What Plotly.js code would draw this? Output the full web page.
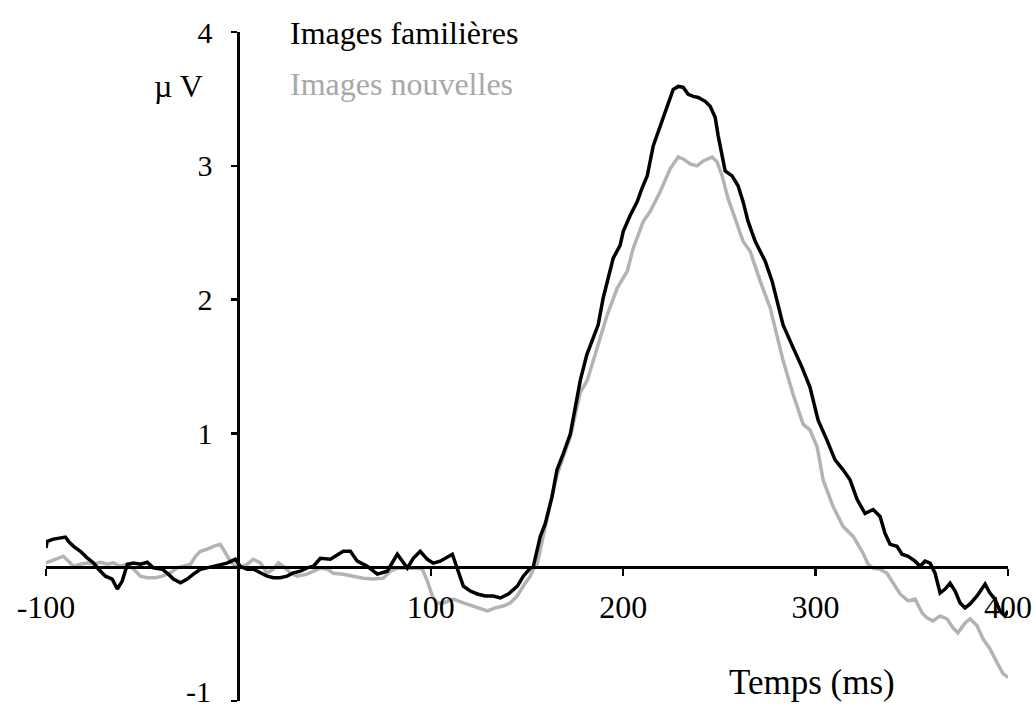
<!DOCTYPE html>
<html>
<head>
<meta charset="utf-8">
<script src="https://cdn.plot.ly/plotly-3.0.1.min.js"></script>
<style>html,body{margin:0;padding:0;background:#fff;}#chart{width:1034px;height:710px;}</style>
</head>
<body>
<div id="chart"></div>
<script>
// Images familières (black)
const famTime = [-100,-99.4,-96.1,-92.5,-89.9,-88.3,-85.7,-82.1,-78.6,-75.3,-72.7,-69.1,-65.6,-62.9,-60.4,-57.7,-54.5,-50.9,-47.4,-44.2,-39.6,-36.4,-33.8,-30.1,-26.6,-23.4,-19.7,-16.3,-13.0,-9.4,-5.9,-1.6,1.0,4.5,7.8,11.4,14.9,18.2,21.8,25.3,28.6,32.2,35.7,39.0,42.6,47.8,54.5,58.2,61.8,67.0,72.2,77.4,82.6,87.8,90.9,94.5,98.2,101.3,104.9,111.2,113.8,116.9,120.5,124.2,128.3,132.5,136.1,140.3,145.0,148.1,151.7,153.2,156.9,159.5,163.0,165.6,168.8,172.5,175.1,177.7,181.1,183.7,187.0,189.6,192.2,194.8,198.4,200.0,203.6,207.3,209.7,212.5,215.6,219.2,222.9,226.0,228.6,231.2,233.8,236.4,239.0,242.6,245.2,247.8,249.4,251.4,253.0,256.6,259.7,262.3,264.9,268.6,273.8,277.4,280.0,283.1,288.3,293.0,297.1,301.3,305.9,310.1,314.3,317.9,321.6,325.7,329.9,333.5,336.1,338.7,342.3,344.9,348.1,351.7,354.3,356.9,359.5,362.1,364.7,367.3,369.9,372.5,375.1,377.7,380.3,383.9,388.1,390.6,393.2,395.8,398.4,400.0];
const famUV = [0.143,0.193,0.210,0.218,0.225,0.193,0.156,0.119,0.069,0.032,-0.015,-0.067,-0.089,-0.163,-0.104,0.022,0.032,0.022,0.037,-0.005,-0.015,-0.052,-0.089,-0.117,-0.089,-0.052,-0.015,-0.005,0.007,0.015,0.030,0.059,0.007,-0.015,-0.013,-0.042,-0.067,-0.079,-0.079,-0.067,-0.042,-0.030,-0.005,0.007,0.067,0.059,0.119,0.119,0.045,0.007,-0.052,-0.030,0.097,-0.007,0.067,0.119,0.059,0.030,0.045,0.097,-0.015,-0.141,-0.178,-0.200,-0.215,-0.215,-0.230,-0.200,-0.141,-0.067,-0.007,0.0,0.230,0.327,0.527,0.728,0.846,0.995,1.195,1.396,1.589,1.693,1.811,2.012,2.160,2.309,2.405,2.509,2.628,2.732,2.829,2.925,3.148,3.296,3.445,3.571,3.593,3.586,3.534,3.519,3.511,3.482,3.445,3.363,3.222,3.073,2.962,2.925,2.851,2.732,2.584,2.435,2.287,2.138,1.990,1.811,1.641,1.492,1.344,1.099,0.950,0.802,0.728,0.653,0.505,0.401,0.431,0.379,0.252,0.171,0.156,0.097,0.082,0.045,0.007,0.045,0.030,-0.045,-0.193,-0.163,-0.119,-0.178,-0.267,-0.304,-0.275,-0.215,-0.126,-0.193,-0.238,-0.327,-0.364,-0.327];

// Images nouvelles (grey)
const newTime = [-100,-97.7,-94.2,-90.9,-88.3,-85.7,-82.1,-78.6,-75.3,-71.7,-68.2,-64.9,-61.3,-57.8,-54.5,-50.9,-47.4,-43.1,-39.6,-35.3,-31.8,-28.6,-24.9,-22.3,-19.7,-16.3,-13.0,-9.4,-6.8,-4.2,-1.6,1.0,4.5,7.8,11.4,14.9,18.2,20.8,23.4,27.0,30.5,35.7,42.6,46.2,49.4,54.5,59.7,64.9,70.1,75.3,79.0,82.6,87.8,93.0,95.6,98.2,100.8,103.4,106.5,111.7,116.9,122.1,129.4,133.5,137.7,141.3,144.9,148.1,151.7,153.2,155.3,159.5,165.6,172.5,177.7,181.3,186.5,191.7,196.9,202.1,205.2,210.4,214.0,219.2,224.4,228.6,231.2,234.8,238.4,241.6,246.2,248.8,251.4,254.5,258.2,262.3,266.0,271.2,276.4,280.0,283.1,288.3,293.5,297.1,300.8,303.9,309.1,314.3,319.5,324.7,327.3,329.9,333.5,337.1,340.3,343.9,348.1,351.7,355.3,357.9,361.0,364.7,368.3,371.4,374.0,377.7,380.3,383.9,387.0,390.6,394.3,397.4,400.0];
const newUV = [0.032,0.045,0.059,0.082,0.045,0.007,0.022,0.032,0.022,0.037,0.022,0.032,0.007,0.022,-0.015,-0.067,-0.079,-0.079,-0.067,-0.042,-0.005,0.007,0.022,0.082,0.119,0.134,0.156,0.171,0.106,0.045,0.007,-0.005,0.022,0.059,0.032,-0.042,-0.015,0.032,0.007,-0.042,-0.067,-0.052,-0.007,-0.015,-0.045,-0.052,-0.067,-0.082,-0.089,-0.082,-0.030,-0.007,-0.007,-0.007,-0.015,-0.104,-0.215,-0.267,-0.267,-0.238,-0.267,-0.290,-0.327,-0.304,-0.290,-0.267,-0.215,-0.141,-0.067,-0.015,0.022,0.304,0.690,0.973,1.307,1.396,1.641,1.886,2.086,2.212,2.383,2.583,2.658,2.806,2.977,3.066,3.051,3.014,2.999,3.036,3.066,3.029,2.925,2.754,2.606,2.435,2.361,2.138,1.938,1.737,1.544,1.292,1.069,1.025,0.898,0.653,0.453,0.304,0.230,0.104,0.022,-0.007,-0.015,-0.045,-0.119,-0.200,-0.252,-0.238,-0.341,-0.379,-0.401,-0.364,-0.386,-0.453,-0.490,-0.416,-0.386,-0.438,-0.535,-0.609,-0.713,-0.795,-0.824];

const xTickVals = [-100, 100, 200, 300, 400];
const xTickText = ["-100", "100", "200", "300", "400"];
const yTickVals = [-1, 1, 2, 3, 4];
const yTickText = ["", "1", "2", "3", "4"];   // "-1" is drawn as a label just above the axis end
const yBottomLabel = "-1";

const seriesNames = ["Images familières", "Images nouvelles"];
const seriesColors = ["#000000", "#b3b3b3"];

const FONT = "Liberation Serif, Times New Roman, serif";

const traces = [
  {x: newTime, y: newUV, type: "scatter", mode: "lines", name: seriesNames[1],
   line: {color: seriesColors[1], width: 3.5}},
  {x: famTime, y: famUV, type: "scatter", mode: "lines", name: seriesNames[0],
   line: {color: seriesColors[0], width: 3.5}}
];

const layout = {
  width: 1034, height: 710,
  margin: {l: 46, r: 26, t: 32, b: 9},
  paper_bgcolor: "#ffffff", plot_bgcolor: "#ffffff",
  showlegend: false,
  font: {family: FONT, size: 32, color: "#000"},
  xaxis: {
    range: [-100, 400], anchor: "free", position: 0.2,
    showgrid: false, zeroline: false,
    showline: true, linecolor: "#000", linewidth: 2.5,
    ticks: "outside", ticklen: 7, tickwidth: 2.5, tickcolor: "#000",
    tickvals: xTickVals, ticktext: xTickText, ticklabelstandoff: 4,
    ticklabeloverflow: "allow",
    tickfont: {family: FONT, size: 32, color: "#000"}
  },
  yaxis: {
    range: [-1, 4], anchor: "free", position: 0.2,
    showgrid: false, zeroline: false,
    showline: true, linecolor: "#000", linewidth: 2.5,
    ticks: "outside", ticklen: 6, tickwidth: 2.5, tickcolor: "#000",
    tickvals: yTickVals, ticktext: yTickText, ticklabelstandoff: 13,
    ticklabeloverflow: "allow",
    tickfont: {family: FONT, size: 30, color: "#000"}
  },
  annotations: [
    {text: yBottomLabel, x: -13, y: -1, xref: "x", yref: "y", xanchor: "right", yanchor: "middle",
     yshift: 10, showarrow: false, font: {family: FONT, size: 30, color: "#000"}},
    {text: seriesNames[0], x: 26, y: 3.99, xref: "x", yref: "y", xanchor: "left", yanchor: "middle",
     showarrow: false, font: {family: FONT, size: 32, color: seriesColors[0]}},
    {text: seriesNames[1], x: 26, y: 3.61, xref: "x", yref: "y", xanchor: "left", yanchor: "middle",
     showarrow: false, font: {family: FONT, size: 32, color: "#a8a8a8"}},
    {text: "\u00b5 V", x: -31, y: 3.6, xref: "x", yref: "y", xanchor: "center", yanchor: "middle",
     showarrow: false, font: {family: FONT, size: 32, color: "#000"}},
    {text: "Temps (ms)", x: 298, y: -0.86, xref: "x", yref: "y", xanchor: "center", yanchor: "middle",
     showarrow: false, font: {family: FONT, size: 35, color: "#000"}}
  ]
};

Plotly.newPlot("chart", traces, layout, {displayModeBar: false, staticPlot: true});
</script>
</body>
</html>
